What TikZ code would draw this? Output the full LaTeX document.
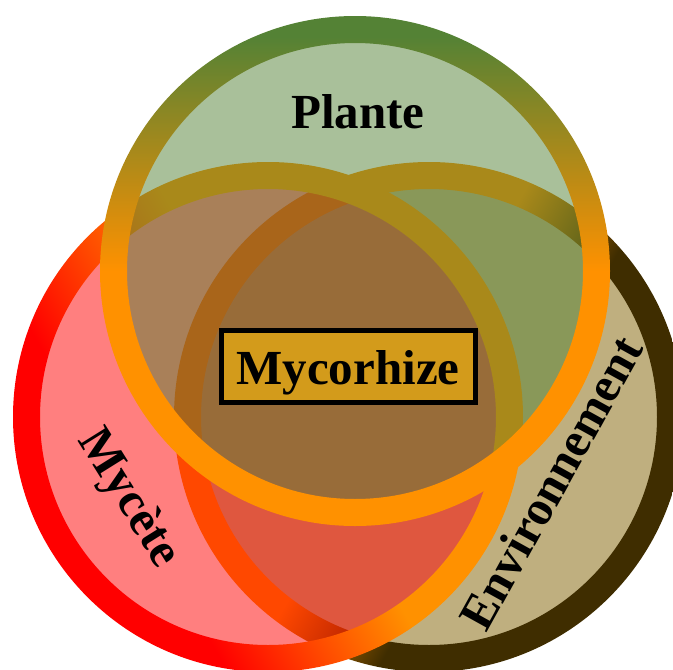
\documentclass[tikz,border=0pt]{standalone}
\usepackage{fontspec}
\setmainfont{Liberation Serif}
\usepackage{xcolor}
\usepackage{tikz}

\definecolor{vertplante}{HTML}{548235}
\definecolor{orangeanneau}{HTML}{FF9100}
\definecolor{rougemycete}{HTML}{FF0000}
\definecolor{rougemilieu}{HTML}{FF4A00}
\definecolor{brunenv}{HTML}{3F2D00}
\definecolor{fondenv}{HTML}{7F6000}
\definecolor{fondcadre}{HTML}{D39B1B}

\pgfdeclarehorizontalshading{degplante}{100bp}{color(0bp)=(vertplante); color(27bp)=(vertplante); color(50bp)=(orangeanneau); color(100bp)=(orangeanneau)}
\pgfdeclarehorizontalshading{degmycete}{100bp}{color(0bp)=(rougemycete); color(34bp)=(rougemycete); color(43bp)=(rougemilieu); color(52bp)=(orangeanneau); color(100bp)=(orangeanneau)}
\pgfdeclarehorizontalshading{degenv}{100bp}{color(0bp)=(orangeanneau); color(47bp)=(orangeanneau); color(58bp)=(brunenv); color(100bp)=(brunenv)}

\begin{document}
\begin{tikzpicture}[
		    x=1pt, y=-1pt,
		    every node/.style={font=\fontsize{49}{55}\selectfont\bfseries, inner sep=0pt}
		]
		\tikzset{
		    fond/.style={fill=#1, fill opacity=0.5},
		    anneau/.style={shading=#1, even odd rule},
		    cadre/.style={draw=black, line width=5pt, fill=fondcadre}
		}
		\useasboundingbox (0,0) rectangle (673,670);
		\clip (0,0) rectangle (673,670);
		\coordinate (E) at (429,417);
		\coordinate (M) at (268,417);
		\coordinate (P) at (355,271);
		\fill[fond=fondenv] (E) circle (241pt);
		\shade[anneau=degenv, shading angle=-30] (E) circle (255pt) (E) circle (228pt);
		\fill[fond=rougemycete] (M) circle (241pt);
		\shade[anneau=degmycete, shading angle=30] (M) circle (255pt) (M) circle (228pt);
		\fill[fond=vertplante] (P) circle (241pt);
		\shade[anneau=degplante, shading angle=-90] (P) circle (255pt) (P) circle (228pt);
		\node[anchor=base] (plante) at (358,128) {Plante};
		\node[cadre, anchor=base, text height=54pt, text depth=18pt, minimum width=254pt] (myco) at (348,384) {Mycorhize};
		\node[rotate=-58] (mycete) at (128,499) {Mycète};
		\node[rotate=61] (env) at (551,483) {Environnement};
		\end{tikzpicture}
\end{document}
